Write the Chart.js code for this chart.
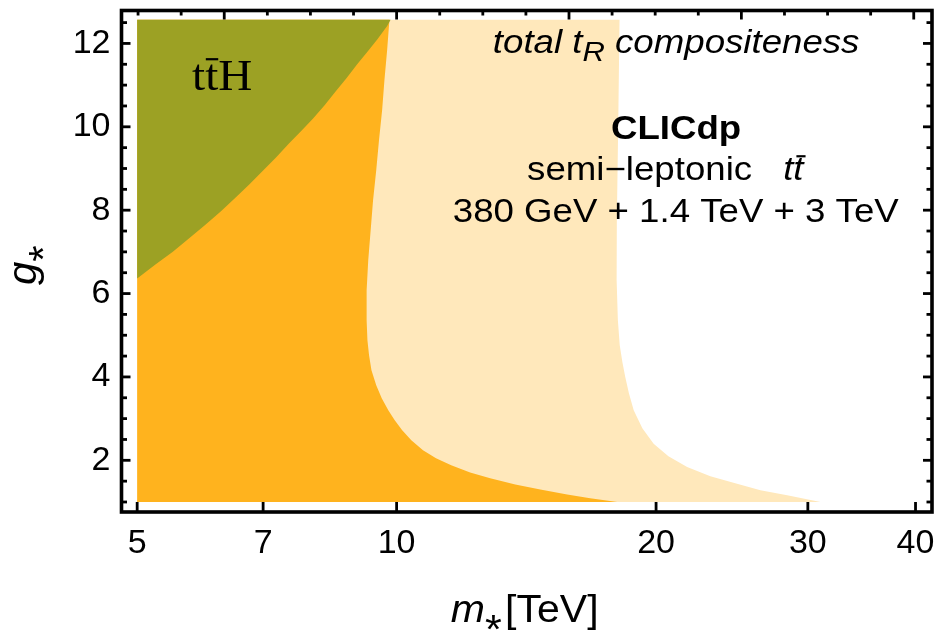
<!DOCTYPE html>
<html>
<head>
<meta charset="utf-8">
<script src="https://cdn.jsdelivr.net/npm/chart.js@4.4.0/dist/chart.umd.min.js"></script>
<style>
  html, body { margin: 0; padding: 0; background: #fff; }
  #wrap { width: 936px; height: 630px; }
</style>
</head>
<body>
<div id="wrap"><canvas id="reachChart" width="936" height="630"></canvas></div>
<script>
// --- Plot window (m* in TeV, log; g* linear) ---
const massRange = [4.795, 41.8];
const couplingRange = [0.76, 12.79];
const massEdge = 5;          // left edge of the scanned region
const couplingLow = 1;       // g* lower limit of the scan
const couplingHigh = 12.566; // g* = 4 pi

// --- Axis ticks ---
const massTicks = [5, 7, 10, 20, 30, 40];
const couplingTicks = [2, 4, 6, 8, 10, 12];

// --- ttH exclusion, lower edge ---
const tthMass =     [5.0, 5.25, 5.5, 5.75, 6.0, 6.25, 6.5, 6.75, 7.0, 7.25, 7.5, 7.75, 8.0, 8.25, 8.5, 8.75, 9.0, 9.25, 9.5, 9.75, 9.84];
const tthCoupling = [6.36, 6.7, 7.0, 7.33, 7.65, 7.97, 8.3, 8.62, 8.95, 9.27, 9.6, 9.9, 10.2, 10.52, 10.85, 11.17, 11.5, 11.8, 12.1, 12.42, 12.566];

// --- semi-leptonic tt reach, inner contour (top to bottom) ---
const innerCoupling = [12.566, 11.84, 11.12, 10.40, 9.68, 8.96, 8.24, 7.52, 6.80, 6.08, 5.36, 4.88, 4.52, 4.16, 3.80, 3.49, 3.20, 2.96, 2.72, 2.48, 2.24, 2.05, 1.88, 1.71, 1.57, 1.42, 1.30, 1.18, 1.09, 1.0];
const innerMass =     [9.81, 9.75, 9.68, 9.62, 9.54, 9.47, 9.39, 9.33, 9.27, 9.23, 9.23, 9.25, 9.29, 9.35, 9.47, 9.61, 9.78, 9.95, 10.15, 10.40, 10.73, 11.11, 11.57, 12.17, 12.84, 13.73, 14.68, 15.77, 16.77, 18.03];

// --- semi-leptonic tt reach, outer contour (top to bottom) ---
const outerCoupling = [12.566, 10.16, 7.76, 6.32, 5.36, 4.76, 4.35, 4.0, 3.61, 3.20, 2.77, 2.40, 2.10, 1.84, 1.62, 1.44, 1.28, 1.16, 1.08, 1.0];
const outerMass =     [18.14, 18.08, 18.01, 18.0, 18.06, 18.15, 18.28, 18.42, 18.60, 18.84, 19.28, 19.87, 20.67, 21.73, 23.12, 24.83, 26.43, 28.39, 29.73, 31.03];

const SANS = '"Liberation Sans", Arial, sans-serif';
const SERIF = '"Liberation Serif", "Times New Roman", serif';
const TEXT_STRETCH = 1.11; // lettering is a little wide in this figure

const colors = {
    outer: '#FFE8BB',
    inner: '#FFB31E',
    tth: '#9CA124'
};

// closed outlines for the filled regions
function pts(ms, gs) { return ms.map((m, i) => ({ x: m, y: gs[i] })); }

const tthShape = [...pts(tthMass, tthCoupling), { x: massEdge, y: couplingHigh }];
const innerShape = [{ x: massEdge, y: couplingLow }, { x: massEdge, y: couplingHigh }, ...pts(innerMass, innerCoupling)];
const outerShape = [{ x: massEdge, y: couplingLow }, { x: massEdge, y: couplingHigh }, ...pts(outerMass, outerCoupling)];

function region(data, color, order) {
    return {
        data, order,
        fill: 'shape',
        backgroundColor: color,
        borderColor: 'rgba(0,0,0,0)',
        borderWidth: 0,
        pointRadius: 0,
        tension: 0
    };
}

// draws a run of differently styled text pieces on one baseline
function drawRun(ctx, parts, x, y, align, sx = TEXT_STRETCH) {
    let w = 0;
    parts.forEach(p => {
        ctx.font = p.font;
        p.w = ctx.measureText(p.text).width + (p.gap || 0);
        w += p.w;
    });
    ctx.save();
    ctx.translate(x, y);
    ctx.scale(sx, 1);
    let cur = align === 'center' ? -w / 2 : 0;
    parts.forEach(p => {
        ctx.font = p.font;
        const left = cur + (p.gap || 0);
        ctx.fillText(p.text, left, p.dy || 0);
        if (p.bar) {
            const tw = p.w - (p.gap || 0);
            ctx.fillRect(left + tw * p.bar[0], -p.bar[2], tw * p.bar[1], 2.2);
        }
        cur += p.w;
    });
    ctx.restore();
}

// Mathematica-style frame: inward ticks on all four sides
const frameTicks = {
    id: 'frameTicks',
    afterDatasetsDraw(chart) {
        const { ctx, chartArea: a, scales: { x, y } } = chart;
        ctx.save();
        ctx.strokeStyle = '#000';
        ctx.lineWidth = 2.8;
        const seg = (x1, y1, x2, y2) => { ctx.beginPath(); ctx.moveTo(x1, y1); ctx.lineTo(x2, y2); ctx.stroke(); };

        massTicks.forEach(m => {
            const px = x.getPixelForValue(m);
            seg(px, a.bottom, px, a.bottom - 10);
        });
        // top edge carries log10(m) ticks every 0.05, long every 0.2
        for (let i = 14; i <= 32; i++) {
            const px = x.getPixelForValue(Math.pow(10, i / 20));
            seg(px, a.top, px, a.top + (i % 4 === 0 ? 9 : 5));
        }
        for (let i = 2; i <= 25; i++) {
            const py = y.getPixelForValue(i / 2);
            const len = i % 4 === 0 ? 9 : 5.5;
            seg(a.left, py, a.left + len, py);
            seg(a.right, py, a.right - len, py);
        }
        ctx.lineWidth = 3.6;
        ctx.strokeRect(a.left, a.top, a.right - a.left, a.bottom - a.top);
        ctx.restore();
    }
};

const labels = {
    id: 'labels',
    afterDraw(chart) {
        const { ctx, chartArea: a, scales: { x, y } } = chart;
        ctx.save();
        ctx.fillStyle = '#000';
        ctx.textBaseline = 'alphabetic';
        ctx.textAlign = 'left';

        drawRun(ctx, [
            { text: 't', font: `44px ${SERIF}` },
            { text: 't', font: `44px ${SERIF}`, bar: [0.05, 0.95, 32] },
            { text: 'H', font: `44px ${SERIF}` }
        ], x.getPixelForValue(5.79), y.getPixelForValue(10.88), 'left', 1.07);

        drawRun(ctx, [
            { text: 'total t', font: `italic 33px ${SANS}` },
            { text: 'R', font: `italic 28px ${SANS}`, dy: 8 },
            { text: ' compositeness', font: `italic 33px ${SANS}` }
        ], x.getPixelForValue(21.1), y.getPixelForValue(11.77), 'center');

        drawRun(ctx, [{ text: 'CLICdp', font: `bold 33px ${SANS}` }],
            x.getPixelForValue(21.1), y.getPixelForValue(9.70), 'center');

        drawRun(ctx, [
            { text: 'semi\u2212leptonic', font: `33px ${SANS}` },
            { text: 't', font: `italic 33px ${SANS}`, gap: 28 },
            { text: 't', font: `italic 33px ${SANS}`, bar: [0.3, 0.9, 25] }
        ], x.getPixelForValue(20.5), y.getPixelForValue(8.72), 'center');

        drawRun(ctx, [{ text: '380 GeV + 1.4 TeV + 3 TeV', font: `33px ${SANS}` }],
            x.getPixelForValue(21.08), y.getPixelForValue(7.72), 'center');

        // axis titles
        drawRun(ctx, [
            { text: 'm', font: `italic 38px ${SANS}` },
            { text: '*', font: `40px ${SANS}`, dy: 21 },
            { text: '[TeV]', font: `38px ${SANS}`, gap: 3 }
        ], (a.left + a.right) / 2 - 2, a.bottom + 109.5, 'center', 1.08);

        ctx.translate(36, (a.top + a.bottom) / 2 + 4);
        ctx.rotate(-Math.PI / 2);
        drawRun(ctx, [
            { text: 'g', font: `italic 40px ${SANS}` },
            { text: '*', font: `40px ${SANS}`, dy: 21 }
        ], 0, 0, 'center', 1.05);
        ctx.restore();
    }
};

const tickFont = { family: SANS, size: 34 };

new Chart(document.getElementById('reachChart'), {
    type: 'line',
    data: {
        datasets: [
            region(tthShape, colors.tth, 1),
            region(innerShape, colors.inner, 2),
            region(outerShape, colors.outer, 3)
        ]
    },
    options: {
        responsive: false,
        devicePixelRatio: 1,
        animation: false,
        events: [],
        layout: { padding: { top: 10.5, right: 4, bottom: 0, left: 0 } },
        scales: {
            x: {
                type: 'logarithmic',
                min: massRange[0], max: massRange[1],
                afterBuildTicks: s => { s.ticks = massTicks.map(v => ({ value: v })); },
                ticks: { callback: v => String(v), font: tickFont, color: '#000', padding: 11, maxRotation: 0, autoSkip: false },
                grid: { display: false, drawTicks: false },
                border: { display: false },
                afterFit: s => { s.height = 118; s.paddingLeft = 0; s.paddingRight = 0; }
            },
            y: {
                type: 'linear',
                min: couplingRange[0], max: couplingRange[1],
                afterBuildTicks: s => { s.ticks = couplingTicks.map(v => ({ value: v })); },
                ticks: { callback: v => String(v), font: tickFont, color: '#000', padding: 11, autoSkip: false },
                grid: { display: false, drawTicks: false },
                border: { display: false },
                afterFit: s => { s.width = 121.5; s.paddingTop = 0; s.paddingBottom = 0; }
            }
        },
        plugins: {
            legend: { display: false },
            tooltip: { enabled: false }
        }
    },
    plugins: [frameTicks, labels]
});
</script>
</body>
</html>
